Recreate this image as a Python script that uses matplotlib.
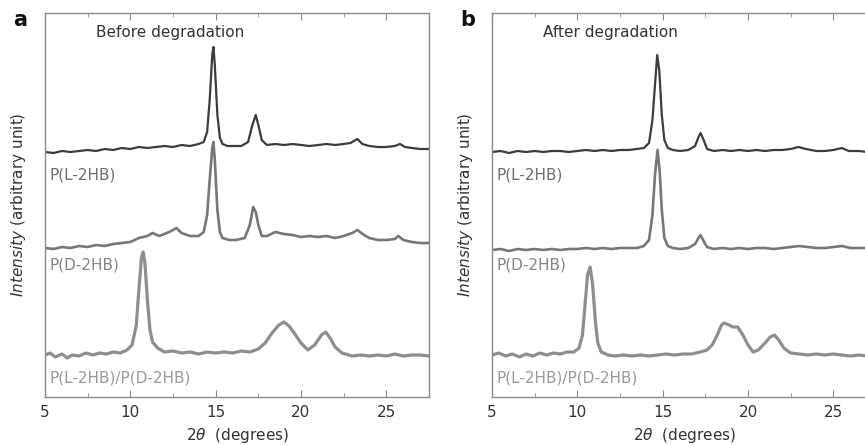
"""XRD patterns of P(L-2HB), P(D-2HB) and their blend, before/after degradation."""
import matplotlib
matplotlib.use("Agg")
import matplotlib.pyplot as plt
from matplotlib.ticker import MultipleLocator

plt.rcParams["font.family"] = ["DejaVu Sans"]
plt.rcParams["mathtext.fontset"] = "dejavusans"

DARK = "#3c3c3c"
MID = "#777777"
LIGHT = "#8e8e8e"
AXIS = "#8a8a8a"
TXT = "#333333"

# ── panel a: before degradation ─────────────────────────────────────────────
a_l_x = [5.0, 5.5, 6.0, 6.5, 7.0, 7.5, 8.0, 8.5, 9.0, 9.5, 10.0, 10.5, 11.0, 11.5,
         12.0, 12.5, 13.0, 13.5, 14.0, 14.3, 14.5, 14.65, 14.8, 14.87, 14.95, 15.1,
         15.25, 15.4, 15.7, 16.0, 16.5, 16.9, 17.15, 17.35, 17.5, 17.7, 18.0, 18.5,
         19.0, 19.5, 20.0, 20.5, 21.0, 21.5, 22.0, 22.5, 22.9, 23.3, 23.6, 24.0,
         24.5, 25.0, 25.5, 25.8, 26.1, 26.5, 27.0, 27.5]
a_l_y = [245, 244, 246, 245, 246, 247, 246, 248, 247, 249, 248, 250, 249, 250,
         251, 250, 252, 251, 253, 255, 265, 297, 342, 350, 332, 282,
         259, 253, 251, 251, 251, 255, 272, 282, 272, 257, 252, 253,
         252, 253, 252, 251, 252, 253, 252, 253, 254, 258, 253, 251,
         250, 250, 251, 253, 250, 249, 248, 248]

a_d_x = [5.0, 5.5, 6.0, 6.5, 7.0, 7.5, 8.0, 8.5, 9.0, 9.5, 10.0, 10.5, 11.0, 11.3,
         11.7, 12.0, 12.4, 12.7, 13.0, 13.5, 14.0, 14.3, 14.5, 14.65, 14.8, 14.87,
         14.95, 15.1, 15.25, 15.4, 15.8, 16.2, 16.7, 17.0, 17.2, 17.35, 17.5, 17.7,
         18.0, 18.5, 19.0, 19.5, 20.0, 20.5, 21.0, 21.5, 22.0, 22.5, 23.0, 23.3,
         23.7, 24.0, 24.5, 25.0, 25.5, 25.7, 26.0, 26.5, 27.0, 27.5]
a_d_y = [149, 148, 150, 149, 151, 150, 152, 151, 153, 154, 155, 159, 161, 164,
         161, 163, 166, 169, 164, 161, 161, 165, 182, 217, 249, 255,
         237, 187, 165, 159, 157, 157, 159, 172, 190, 185, 172, 161,
         161, 165, 163, 162, 160, 161, 160, 161, 159, 161, 164, 167,
         162, 159, 157, 157, 158, 161, 157, 155, 154, 154]

a_b_x = [5.0, 5.3, 5.6, 6.0, 6.3, 6.6, 7.0, 7.4, 7.8, 8.2, 8.6, 9.0, 9.4, 9.8,
         10.1, 10.35, 10.5, 10.65, 10.75, 10.85, 11.0, 11.15, 11.3, 11.6, 12.0,
         12.5, 13.0, 13.5, 14.0, 14.5, 15.0, 15.5, 16.0, 16.5, 17.0, 17.5, 17.9,
         18.3, 18.7, 19.0, 19.3, 19.6, 20.0, 20.4, 20.8, 21.2, 21.45, 21.7, 22.0,
         22.4, 23.0, 23.5, 24.0, 24.5, 25.0, 25.5, 26.0, 26.5, 27.0, 27.5]
a_b_y = [42, 44, 40, 43, 39, 42, 41, 44, 42, 44, 43, 45, 44, 47,
         52, 72, 107, 139, 145, 135, 97, 67, 55, 49, 45,
         46, 44, 45, 43, 45, 44, 45, 44, 46, 45, 48, 54,
         64, 72, 75, 71, 64, 54, 47, 52, 62, 65, 59, 50,
         44, 41, 42, 41, 42, 41, 43, 41, 42, 42, 41]

# ── panel b: after degradation ──────────────────────────────────────────────
b_l_x = [5.0, 5.5, 6.0, 6.5, 7.0, 7.5, 8.0, 8.5, 9.0, 9.5, 10.0, 10.5, 11.0, 11.5,
         12.0, 12.5, 13.0, 13.5, 13.9, 14.2, 14.4, 14.55, 14.68, 14.8, 14.95, 15.1,
         15.3, 15.6, 16.0, 16.5, 16.9, 17.1, 17.22, 17.4, 17.6, 18.0, 18.5, 19.0,
         19.5, 20.0, 20.5, 21.0, 21.5, 22.0, 22.5, 22.95, 23.4, 24.0, 24.5, 25.0,
         25.5, 25.9, 26.5, 27.0, 27.5]
b_l_y = [245, 246, 244, 246, 245, 246, 245, 246, 246, 245, 246, 247, 246, 247,
         246, 247, 247, 248, 249, 254, 277, 312, 342, 327, 282, 257,
         249, 247, 246, 247, 251, 260, 264, 257, 248, 246, 247, 246,
         247, 246, 247, 246, 247, 247, 248, 250, 248, 246, 246, 247,
         249, 246, 246, 245, 245]

b_d_x = [5.0, 5.5, 6.0, 6.5, 7.0, 7.5, 8.0, 8.5, 9.0, 9.5, 10.0, 10.5, 11.0, 11.5,
         12.0, 12.5, 13.0, 13.5, 13.9, 14.2, 14.4, 14.55, 14.7, 14.82, 14.95, 15.1,
         15.3, 15.6, 16.0, 16.5, 16.9, 17.1, 17.22, 17.4, 17.6, 18.0, 18.5, 19.0,
         19.5, 20.0, 20.5, 21.0, 21.5, 22.0, 22.5, 23.0, 23.5, 24.0, 24.5, 25.0,
         25.5, 26.0, 26.5, 27.0, 27.5]
b_d_y = [147, 148, 146, 148, 147, 148, 147, 148, 147, 148, 148, 149, 148, 149,
         148, 149, 149, 149, 151, 157, 182, 222, 247, 227, 187, 159,
         151, 149, 148, 149, 153, 159, 162, 156, 150, 148, 149, 148,
         149, 148, 149, 149, 148, 149, 150, 151, 150, 149, 149, 150,
         151, 149, 149, 149, 148]

b_b_x = [5.0, 5.4, 5.8, 6.2, 6.6, 7.0, 7.4, 7.8, 8.2, 8.6, 9.0, 9.4, 9.8, 10.1,
         10.3, 10.45, 10.6, 10.75, 10.9, 11.05, 11.2, 11.4, 11.8, 12.2, 12.7, 13.2,
         13.7, 14.2, 14.7, 15.2, 15.7, 16.2, 16.7, 17.2, 17.6, 17.9, 18.2, 18.45,
         18.6, 18.9, 19.1, 19.4, 19.7, 20.0, 20.3, 20.6, 21.0, 21.3, 21.55, 21.8,
         22.1, 22.5, 23.0, 23.5, 24.0, 24.5, 25.0, 25.5, 26.0, 26.5, 27.0, 27.5]
b_b_y = [42, 44, 41, 43, 40, 43, 41, 44, 42, 44, 43, 45, 45, 49,
         62, 92, 122, 130, 112, 77, 54, 45, 42, 41, 42, 41,
         42, 41, 42, 43, 42, 43, 43, 45, 47, 52, 62, 72,
         74, 72, 70, 70, 62, 52, 45, 47, 54, 60, 62, 57,
         49, 44, 43, 42, 43, 42, 43, 42, 41, 42, 41, 41]

names = ["P(L-2HB)", "P(D-2HB)", "P(L-2HB)/P(D-2HB)"]
line_colors = [DARK, MID, LIGHT]
line_widths = [1.6, 1.9, 2.3]
label_colors = ["#6e6e6e", "#858585", "#9a9a9a"]
label_y = [222, 132, 19]

panels = [
    ("a", "Before degradation", [(a_l_x, a_l_y), (a_d_x, a_d_y), (a_b_x, a_b_y)]),
    ("b", "After degradation", [(b_l_x, b_l_y), (b_d_x, b_d_y), (b_b_x, b_b_y)]),
]

fig = plt.figure(figsize=(8.65, 4.45), dpi=100)
lefts = [45 / 865, 492 / 865]

for left, (letter, title, curves) in zip(lefts, panels):
    ax = fig.add_axes([left, 48 / 445, 384 / 865, 384 / 445])
    for (xs, ys), c, w in zip(curves, line_colors, line_widths):
        ax.plot(xs, ys, color=c, lw=w, solid_joinstyle="round")
    for name, c, ly in zip(names, label_colors, label_y):
        ax.text(5.25, ly, name, color=c, fontsize=11, ha="left", va="center")
    ax.text(8.0, 364, title, color=TXT, fontsize=11, ha="left", va="center")

    ax.set_xlim(5, 27.5)
    ax.set_ylim(0, 384)
    ax.xaxis.set_major_locator(MultipleLocator(5))
    ax.xaxis.set_minor_locator(MultipleLocator(2.5))
    ax.tick_params(axis="x", which="both", direction="in", top=True,
                   colors=AXIS, labelcolor=TXT, labelsize=11, pad=6)
    ax.tick_params(axis="x", which="major", length=5)
    ax.tick_params(axis="x", which="minor", length=3)
    ax.set_yticks([])
    for s in ax.spines.values():
        s.set_color(AXIS)
        s.set_linewidth(1.0)
    ax.set_xlabel(r"$\mathit{2\theta}$  (degrees)", fontsize=11, color=TXT, labelpad=4)
    ax.set_ylabel(r"$\mathit{Intensity}$ (arbitrary unit)", fontsize=11,
                  color=TXT, labelpad=12)
    fig.text(left - 32 / 865, 1 - 20 / 445, letter, fontsize=15, fontweight="bold",
             color="#111111", ha="left", va="center")

fig.savefig("out.png", facecolor="white")
